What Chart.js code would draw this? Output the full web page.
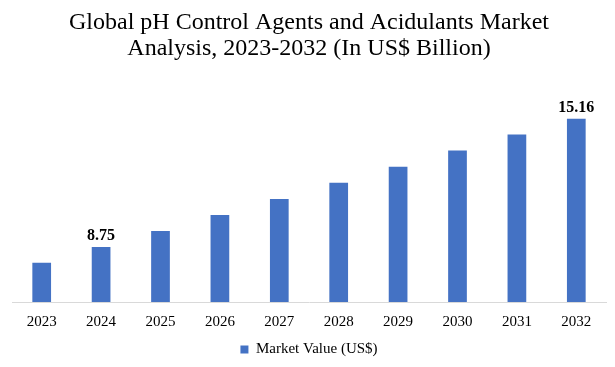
<!DOCTYPE html>
<html>
<head>
<meta charset="utf-8">
<script src="https://cdn.jsdelivr.net/npm/chart.js@4.4.1/dist/chart.umd.min.js"></script>
<style>
  html, body { margin: 0; padding: 0; background: #fff; }
  #wrap { width: 615px; height: 367px; }
</style>
</head>
<body>
<div id="wrap"><canvas id="marketChart" width="615" height="367"></canvas></div>
<script>
// chart data
const years = ['2023', '2024', '2025', '2026', '2027', '2028', '2029', '2030', '2031', '2032'];
const marketValues = [7.96, 8.75, 9.55, 10.35, 11.15, 11.96, 12.76, 13.57, 14.37, 15.16];
const labelledYears = ['2024', '2032'];
const titleLines = ['Global pH Control Agents and Acidulants Market', 'Analysis, 2023-2032 (In US$ Billion)'];
const seriesName = 'Market Value (US$)';

const FONT = "'Liberation Serif', 'DejaVu Serif', serif";
const BAR_BLUE = '#4472C4';

// draws the value above the few bars that carry one
const valueLabels = {
    id: 'valueLabels',
    afterDatasetsDraw(chart) {
        const ctx = chart.ctx;
        const meta = chart.getDatasetMeta(0);
        ctx.save();
        ctx.font = "bold 16px " + FONT;
        ctx.fillStyle = '#000';
        ctx.textAlign = 'center';
        ctx.textBaseline = 'middle';
        meta.data.forEach((bar, i) => {
            if (!labelledYears.includes(years[i])) return;
            ctx.fillText(marketValues[i].toFixed(2), bar.x, bar.y - 11);
        });
        ctx.restore();
    }
};

new Chart(document.getElementById('marketChart').getContext('2d'), {
    type: 'bar',
    data: {
        labels: years,
        datasets: [{
            label: seriesName,
            data: marketValues,
            backgroundColor: BAR_BLUE,
            borderWidth: 0,
            barPercentage: 0.315,
            categoryPercentage: 1.0
        }]
    },
    options: {
        responsive: false,
        animation: false,
        layout: { padding: { left: 12, right: 9, top: 0, bottom: 0 } },
        plugins: {
            title: {
                display: true,
                text: titleLines,
                color: '#000',
                font: { family: FONT, size: 24, weight: 'normal', lineHeight: 1.08 },
                padding: { top: 10, bottom: 40 }
            },
            legend: {
                position: 'bottom',
                labels: {
                    color: '#000',
                    font: { family: FONT, size: 15 },
                    boxWidth: 8,
                    boxHeight: 8,
                    padding: 0
                }
            },
            tooltip: { enabled: false }
        },
        scales: {
            x: {
                grid: { display: false, drawTicks: false },
                border: { display: true, color: '#D9D9D9', width: 1 },
                ticks: { color: '#000', font: { family: FONT, size: 15 }, padding: 11 }
            },
            y: {
                display: false,
                min: 6,
                max: 16
            }
        }
    },
    plugins: [valueLabels]
});
</script>
</body>
</html>
